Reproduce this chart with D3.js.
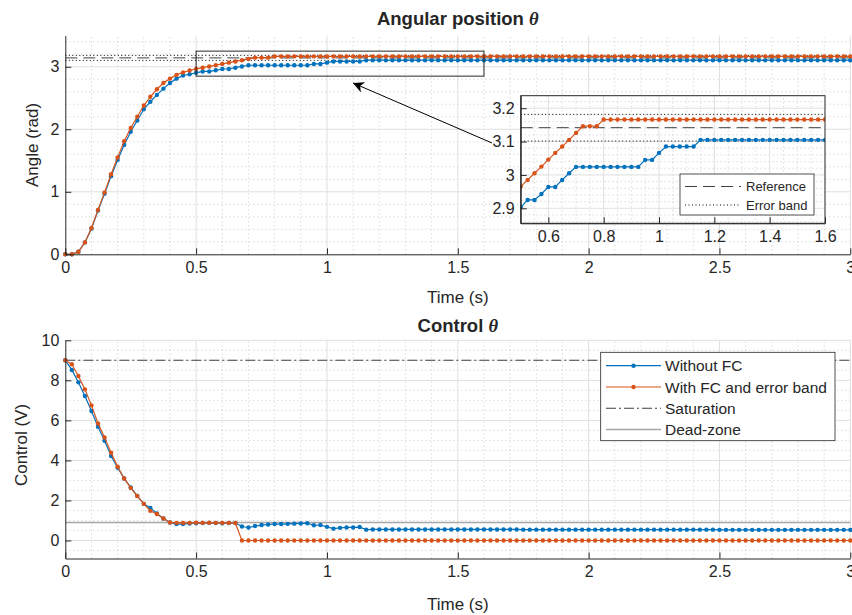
<!DOCTYPE html>
<html>
<head>
<meta charset="utf-8">
<script src="https://cdn.jsdelivr.net/npm/d3@7"></script>
<style>
  body { margin: 0; background: #fff; }
  text { font-family: "Liberation Sans", Arial, Helvetica, sans-serif; fill: #262626; }
</style>
</head>
<body>
<script>
// sampled every 25 ms
var dt = 0.025;

// angular position (rad)
var angleNoFC = [
  0, 0, 0.04, 0.19, 0.41, 0.70, 0.97, 1.25, 1.51, 1.75,
  1.96, 2.14, 2.32, 2.44, 2.55, 2.65, 2.74, 2.81, 2.86, 2.88,
  2.903, 2.925, 2.925, 2.943, 2.964, 2.964, 2.985, 3.005, 3.024, 3.024,
  3.024, 3.024, 3.024, 3.024, 3.024, 3.024, 3.024, 3.024, 3.045, 3.045,
  3.066, 3.085, 3.085, 3.085, 3.085, 3.085, 3.105, 3.105, 3.105, 3.105,
  3.105, 3.105, 3.105, 3.105, 3.105, 3.105, 3.105, 3.105, 3.105, 3.105,
  3.105, 3.105, 3.105, 3.105, 3.105, 3.105, 3.105, 3.105, 3.105, 3.105,
  3.105, 3.105, 3.105, 3.105, 3.105, 3.105, 3.105, 3.105, 3.105, 3.105,
  3.105, 3.105, 3.105, 3.105, 3.105, 3.105, 3.105, 3.105, 3.105, 3.105,
  3.105, 3.105, 3.105, 3.105, 3.105, 3.105, 3.105, 3.105, 3.105, 3.105,
  3.105, 3.105, 3.105, 3.105, 3.105, 3.105, 3.105, 3.105, 3.105, 3.105,
  3.105, 3.105, 3.105, 3.105, 3.105, 3.105, 3.105, 3.105, 3.105, 3.105,
  3.105
];
var angleFC = [
  0, 0, 0.04, 0.19, 0.42, 0.71, 0.99, 1.28, 1.55, 1.81,
  2.02, 2.20, 2.38, 2.52, 2.64, 2.74, 2.81, 2.87, 2.91, 2.94,
  2.965, 2.985, 3.005, 3.025, 3.046, 3.066, 3.085, 3.105, 3.126, 3.146,
  3.146, 3.146, 3.166, 3.166, 3.166, 3.166, 3.166, 3.166, 3.166, 3.166,
  3.166, 3.166, 3.166, 3.166, 3.166, 3.166, 3.166, 3.166, 3.166, 3.166,
  3.166, 3.166, 3.166, 3.166, 3.166, 3.166, 3.166, 3.166, 3.166, 3.166,
  3.166, 3.166, 3.166, 3.166, 3.166, 3.166, 3.166, 3.166, 3.166, 3.166,
  3.166, 3.166, 3.166, 3.166, 3.166, 3.166, 3.166, 3.166, 3.166, 3.166,
  3.166, 3.166, 3.166, 3.166, 3.166, 3.166, 3.166, 3.166, 3.166, 3.166,
  3.166, 3.166, 3.166, 3.166, 3.166, 3.166, 3.166, 3.166, 3.166, 3.166,
  3.166, 3.166, 3.166, 3.166, 3.166, 3.166, 3.166, 3.166, 3.166, 3.166,
  3.166, 3.166, 3.166, 3.166, 3.166, 3.166, 3.166, 3.166, 3.166, 3.166,
  3.166
];

// control signal (V)
var controlNoFC = [
  9.0, 8.52, 7.9, 7.22, 6.47, 5.68, 4.98, 4.22, 3.63, 3.1,
  2.65, 2.23, 1.83, 1.63, 1.35, 1.1, 0.9, 0.82, 0.82, 0.85,
  0.86, 0.87, 0.88, 0.87, 0.86, 0.87, 0.87, 0.70, 0.65, 0.72,
  0.77, 0.80, 0.82, 0.82, 0.83, 0.84, 0.85, 0.86, 0.76, 0.77,
  0.68, 0.59, 0.63, 0.65, 0.65, 0.67, 0.54, 0.55, 0.55, 0.55,
  0.55, 0.55, 0.55, 0.55, 0.55, 0.55, 0.55, 0.55, 0.55, 0.55,
  0.55, 0.55, 0.55, 0.55, 0.55, 0.55, 0.55, 0.55, 0.55, 0.55,
  0.54, 0.54, 0.54, 0.54, 0.54, 0.54, 0.54, 0.54, 0.54, 0.54,
  0.54, 0.54, 0.54, 0.54, 0.54, 0.54, 0.54, 0.54, 0.54, 0.54,
  0.54, 0.54, 0.54, 0.54, 0.54, 0.54, 0.54, 0.54, 0.54, 0.54,
  0.53, 0.53, 0.53, 0.53, 0.53, 0.53, 0.53, 0.53, 0.53, 0.53,
  0.53, 0.53, 0.53, 0.53, 0.53, 0.53, 0.53, 0.53, 0.53, 0.53,
  0.53
];
var controlFC = [
  9.0, 8.8, 8.22, 7.55, 6.75, 5.85, 5.15, 4.38, 3.68, 3.1,
  2.63, 2.22, 1.83, 1.48, 1.32, 1.1, 0.9, 0.88, 0.88, 0.88,
  0.89, 0.88, 0.89, 0.88, 0.88, 0.88, 0.87, 0, 0, 0,
  0, 0, 0, 0, 0, 0, 0, 0, 0, 0,
  0, 0, 0, 0, 0, 0, 0, 0, 0, 0,
  0, 0, 0, 0, 0, 0, 0, 0, 0, 0,
  0, 0, 0, 0, 0, 0, 0, 0, 0, 0,
  0, 0, 0, 0, 0, 0, 0, 0, 0, 0,
  0, 0, 0, 0, 0, 0, 0, 0, 0, 0,
  0, 0, 0, 0, 0, 0, 0, 0, 0, 0,
  0, 0, 0, 0, 0, 0, 0, 0, 0, 0,
  0, 0, 0, 0, 0, 0, 0, 0, 0, 0,
  0
];

var reference = 3.1416;
var errorBand = [3.1016, 3.1816];
var saturation = 9;
var deadZone = 0.9;

var xTicks = [0, 0.5, 1, 1.5, 2, 2.5, 3];
var angleTicks = [0, 1, 2, 3];
var controlTicks = [0, 2, 4, 6, 8, 10];
var insetXTicks = [0.6, 0.8, 1, 1.2, 1.4, 1.6];
var insetYTicks = [2.9, 3, 3.1, 3.2];

var legendNames = ["Without FC", "With FC and error band", "Saturation", "Dead-zone"];
var insetLegendNames = ["Reference", "Error band"];

var blue = "#0072BD", orange = "#D95319";
var axisColor = "#262626";

var svg = d3.select("body").append("svg")
  .attr("width", 852)
  .attr("height", 615)
  .style("background", "#fff");

var time = angleNoFC.map(function(d, i) { return +(i * dt).toFixed(3); });

// helpers ---------------------------------------------------------
function minorGrid(g, x, y, xs, ys) {
  g.append("g").selectAll("line").data(xs).enter().append("line")
    .attr("x1", d => x(d)).attr("x2", d => x(d))
    .attr("y1", y.range()[0]).attr("y2", y.range()[1])
    .attr("stroke", "#bcbcbc").attr("stroke-width", 0.8)
    .attr("stroke-dasharray", "1,3");
  g.append("g").selectAll("line").data(ys).enter().append("line")
    .attr("y1", d => y(d)).attr("y2", d => y(d))
    .attr("x1", x.range()[0]).attr("x2", x.range()[1])
    .attr("stroke", "#bcbcbc").attr("stroke-width", 0.8)
    .attr("stroke-dasharray", "1,3");
}

function majorGrid(g, x, y, xs, ys) {
  g.append("g").selectAll("line").data(xs).enter().append("line")
    .attr("x1", d => x(d)).attr("x2", d => x(d))
    .attr("y1", y.range()[0]).attr("y2", y.range()[1])
    .attr("stroke", "#dfdfdf").attr("stroke-width", 1);
  g.append("g").selectAll("line").data(ys).enter().append("line")
    .attr("y1", d => y(d)).attr("y2", d => y(d))
    .attr("x1", x.range()[0]).attr("x2", x.range()[1])
    .attr("stroke", "#dfdfdf").attr("stroke-width", 1);
}

function drawAxes(g, x, y, xt, yt, fs) {
  var ax = g.append("g")
    .attr("transform", "translate(0," + y.range()[0] + ")")
    .call(d3.axisBottom(x).tickValues(xt).tickFormat(d => String(d))
      .tickSizeInner(-6).tickSizeOuter(0).tickPadding(7));
  var ay = g.append("g")
    .attr("transform", "translate(" + x.range()[0] + ",0)")
    .call(d3.axisLeft(y).tickValues(yt).tickFormat(d => String(d))
      .tickSizeInner(-6).tickSizeOuter(0).tickPadding(6));
  [ax, ay].forEach(function(a) {
    a.attr("color", axisColor);
    a.select(".domain").attr("stroke-width", 1);
    a.selectAll("text").style("font-family", "'Liberation Sans', Arial, sans-serif")
      .attr("font-size", fs).attr("fill", axisColor);
  });
}

function hLine(g, x, y, val, color, dash, width) {
  g.append("line")
    .attr("x1", x.range()[0]).attr("x2", x.range()[1])
    .attr("y1", y(val)).attr("y2", y(val))
    .attr("stroke", color).attr("stroke-width", width || 1)
    .attr("stroke-dasharray", dash || null);
}

function series(g, x, y, vals, color, r) {
  var pts = vals.map((v, i) => [time[i], v]);
  g.append("path").datum(pts)
    .attr("fill", "none").attr("stroke", color).attr("stroke-width", 1.2)
    .attr("d", d3.line().x(d => x(d[0])).y(d => y(d[1])));
  g.append("g").selectAll("circle").data(pts).enter().append("circle")
    .attr("cx", d => x(d[0])).attr("cy", d => y(d[1]))
    .attr("r", r || 2.2).attr("fill", color);
}

function steps(a, b, s) {
  var out = [];
  var n = Math.round((b - a) / s);
  for (var i = 0; i <= n; i++) out.push(+(a + i * s).toFixed(4));
  return out;
}

// top: angular position ------------------------------------------
var x1 = d3.scaleLinear().domain([0, 3]).range([65.3, 850.3]);
var y1 = d3.scaleLinear().domain([0, 3.5]).range([254.3, 35.5]);
var topG = svg.append("g");

minorGrid(topG, x1, y1,
  steps(0, 3, 0.1).filter(d => xTicks.indexOf(d) < 0),
  steps(0, 3.4, 0.2).filter(d => angleTicks.indexOf(d) < 0));
majorGrid(topG, x1, y1, xTicks.slice(1), angleTicks.slice(1));

hLine(topG, x1, y1, errorBand[1], "#000", "1,2.5");
hLine(topG, x1, y1, errorBand[0], "#000", "1,2.5");
hLine(topG, x1, y1, reference, "#404040", "12,6");

series(topG, x1, y1, angleNoFC, blue);
series(topG, x1, y1, angleFC, orange);

drawAxes(topG, x1, y1, xTicks, angleTicks, 16);

// zoom rectangle
topG.append("rect")
  .attr("x", x1(0.5)).attr("y", y1(3.25))
  .attr("width", x1(1.6) - x1(0.5)).attr("height", y1(2.85) - y1(3.25))
  .attr("fill", "none").attr("stroke", axisColor).attr("stroke-width", 1);

// arrow
svg.append("defs").append("marker")
  .attr("id", "head").attr("viewBox", "0 0 10 10")
  .attr("refX", 10).attr("refY", 5)
  .attr("markerWidth", 15).attr("markerHeight", 11)
  .attr("markerUnits", "userSpaceOnUse")
  .attr("orient", "auto")
  .append("path").attr("d", "M0,0 L10,5 L0,10 L3,5 Z").attr("fill", "#000");
svg.append("line")
  .attr("x1", 492).attr("y1", 143).attr("x2", 353).attr("y2", 83)
  .attr("stroke", "#000").attr("stroke-width", 1)
  .attr("marker-end", "url(#head)");

topG.append("text").attr("x", 457.8).attr("y", 303)
  .attr("text-anchor", "middle").attr("font-size", 17).text("Time (s)");
topG.append("text").attr("transform", "translate(38,145) rotate(-90)")
  .attr("text-anchor", "middle").attr("font-size", 17).text("Angle (rad)");
var t1 = topG.append("text").attr("x", 457.8).attr("y", 24.5)
  .attr("text-anchor", "middle").attr("font-size", 18.5).attr("font-weight", "bold");
t1.append("tspan").text("Angular position ");
t1.append("tspan").attr("font-style", "italic")
  .style("font-family", "'Liberation Serif', 'Times New Roman', serif").text("θ");

// inset -------------------------------------------------------------
var xi = d3.scaleLinear().domain([0.5, 1.6]).range([520.7, 825]);
var yi = d3.scaleLinear().domain([2.855, 3.2375]).range([223.3, 95.7]);
var ins = svg.append("g");
ins.append("rect").attr("x", 520.7).attr("y", 95.7)
  .attr("width", 825 - 520.7).attr("height", 223.3 - 95.7).attr("fill", "#fff");
svg.append("clipPath").attr("id", "insclip").append("rect")
  .attr("x", 520.7).attr("y", 95.7).attr("width", 825 - 520.7).attr("height", 223.3 - 95.7);

minorGrid(ins, xi, yi,
  steps(0.55, 1.55, 0.05).filter(d => insetXTicks.indexOf(d) < 0),
  steps(2.86, 3.22, 0.02).filter(d => insetYTicks.indexOf(d) < 0));
majorGrid(ins, xi, yi, insetXTicks.slice(0, -1), insetYTicks);

var insData = ins.append("g").attr("clip-path", "url(#insclip)");
hLine(insData, xi, yi, errorBand[1], "#000", "1,2.5");
hLine(insData, xi, yi, errorBand[0], "#000", "1,2.5");
hLine(insData, xi, yi, reference, "#404040", "12,6");
series(insData, xi, yi, angleNoFC, blue);
series(insData, xi, yi, angleFC, orange);

drawAxes(ins, xi, yi, insetXTicks, insetYTicks, 16);
ins.append("rect").attr("x", 520.7).attr("y", 95.7)
  .attr("width", 825 - 520.7).attr("height", 223.3 - 95.7)
  .attr("fill", "none").attr("stroke", axisColor).attr("stroke-width", 1);

// inset legend
var il = ins.append("g");
il.append("rect").attr("x", 680).attr("y", 174).attr("width", 134).attr("height", 41)
  .attr("fill", "#fff").attr("stroke", axisColor).attr("stroke-width", 0.8);
var ilStyles = [["#404040", "12,6"], ["#000", "1,2.5"]];
insetLegendNames.forEach(function(name, i) {
  var yy = 186.5 + i * 18.5;
  il.append("line").attr("x1", 685).attr("x2", 741).attr("y1", yy).attr("y2", yy)
    .attr("stroke", ilStyles[i][0]).attr("stroke-dasharray", ilStyles[i][1]);
  il.append("text").attr("x", 746).attr("y", yy + 4.5).attr("font-size", 13).text(name);
});

// bottom: control ------------------------------------------------------
var x2 = d3.scaleLinear().domain([0, 3]).range([65.3, 850.3]);
var y2 = d3.scaleLinear().domain([-0.9, 10]).range([558.5, 340.3]);
var bot = svg.append("g");

minorGrid(bot, x2, y2,
  steps(0, 3, 0.1).filter(d => xTicks.indexOf(d) < 0),
  steps(-0.5, 9.5, 0.5).filter(d => controlTicks.indexOf(d) < 0));
majorGrid(bot, x2, y2, xTicks.slice(1), controlTicks);

hLine(bot, x2, y2, saturation, "#404040", "10,3,2,3", 1.1);
hLine(bot, x2, y2, deadZone, "#a6a6a6", null, 1.5);

series(bot, x2, y2, controlNoFC, blue);
series(bot, x2, y2, controlFC, orange);

drawAxes(bot, x2, y2, xTicks, controlTicks, 16);

bot.append("text").attr("x", 457.8).attr("y", 610)
  .attr("text-anchor", "middle").attr("font-size", 17).text("Time (s)");
bot.append("text").attr("transform", "translate(27,445) rotate(-90)")
  .attr("text-anchor", "middle").attr("font-size", 17).text("Control (V)");
var t2 = bot.append("text").attr("x", 457.8).attr("y", 331.5)
  .attr("text-anchor", "middle").attr("font-size", 18.5).attr("font-weight", "bold");
t2.append("tspan").text("Control ");
t2.append("tspan").attr("font-style", "italic")
  .style("font-family", "'Liberation Serif', 'Times New Roman', serif").text("θ");

// legend
var lg = bot.append("g");
lg.append("rect").attr("x", 600.7).attr("y", 352.3).attr("width", 234.3).attr("height", 88.4)
  .attr("fill", "#fff").attr("stroke", axisColor).attr("stroke-width", 0.8);
var lgStyles = [
  { c: blue, dash: null, w: 1.2, dot: true },
  { c: orange, dash: null, w: 1.2, dot: true },
  { c: "#404040", dash: "10,3,2,3", w: 1.1, dot: false },
  { c: "#a6a6a6", dash: null, w: 1.5, dot: false }
];
legendNames.forEach(function(name, i) {
  var yy = 365.7 + i * 21.3;
  var s = lgStyles[i];
  lg.append("line").attr("x1", 606).attr("x2", 661).attr("y1", yy).attr("y2", yy)
    .attr("stroke", s.c).attr("stroke-width", s.w).attr("stroke-dasharray", s.dash);
  if (s.dot) lg.append("circle").attr("cx", 633.5).attr("cy", yy).attr("r", 2.2).attr("fill", s.c);
  lg.append("text").attr("x", 665).attr("y", yy + 5.5).attr("font-size", 15.5).text(name);
});
</script>
</body>
</html>
